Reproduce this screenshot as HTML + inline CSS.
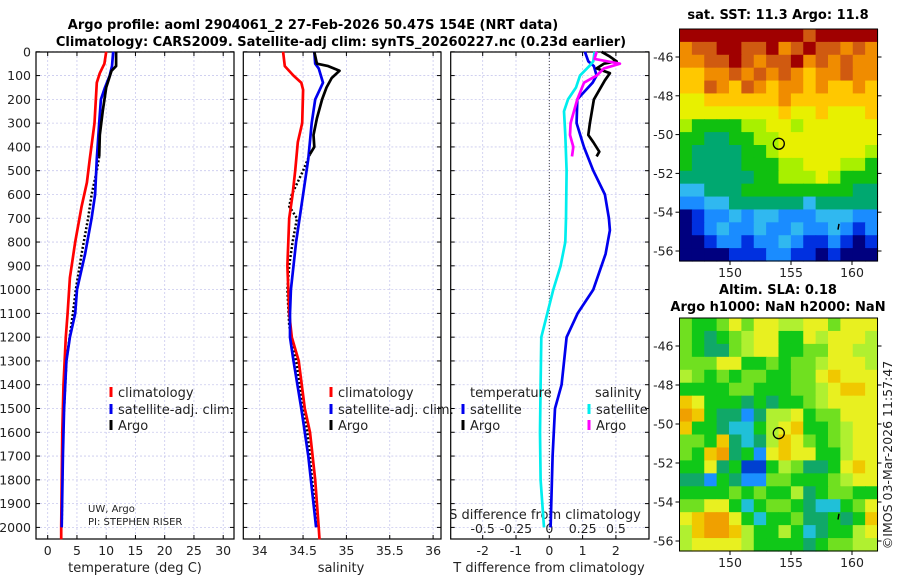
<!DOCTYPE html>
<html><head><meta charset="utf-8"><style>
html,body{margin:0;padding:0;background:#fff;}
svg{display:block;font-family:"DejaVu Sans","Liberation Sans",sans-serif;}
</style></head><body>
<svg id="fig" width="900" height="580" viewBox="0 0 900 580" xmlns="http://www.w3.org/2000/svg">
<text x="313" y="29" font-size="13" font-weight="bold" text-anchor="middle">Argo profile: aoml 2904061_2 27-Feb-2026 50.47S 154E (NRT data)</text>
<text x="341" y="46" font-size="13" font-weight="bold" text-anchor="middle">Climatology: CARS2009. Satellite-adj clim: synTS_20260227.nc (0.23d earlier)</text>
<g id="g"></g>
</svg>
<script>
// ---------- data ----------
const depthTicks = [0,100,200,300,400,500,600,700,800,900,1000,1100,1200,1300,1400,1500,1600,1700,1800,1900,2000];
const tempTicks = [0,5,10,15,20,25,30];
const salTicks = [34,34.5,35,35.5,36];
const salTickLabels = ["34","34.5","35","35.5","36"];
const dTTicks = [-2,-1,0,1,2];
const dSTicks = [-0.5,-0.25,0,0.25,0.5];
const dSTickLabels = ["-0.5","-0.25","0","0.25","0.5"];

const tClimDepth = [0,50,90,130,300,450,550,650,800,950,1100,1200,1400,1600,2000,2050];
const tClimVal = [10.0,9.7,8.9,8.4,8.0,7.2,6.7,5.8,4.7,3.8,3.4,3.1,2.7,2.5,2.3,2.3];
const tSatDepth = [0,60,100,150,200,300,450,600,700,850,1000,1100,1200,1300,1500,1700,2000];
const tSatVal = [11.2,11.0,10.6,9.8,9.1,8.8,8.4,8.1,7.5,6.4,5.0,4.7,3.8,3.2,2.8,2.6,2.4];
const tArgoDepth = [0,60,80,150,250,350,440];
const tArgoVal = [11.7,11.7,10.9,10.0,9.4,8.9,8.8];
const tArgoDotDepth = [440,500,600,700,850,1000,1100,1300,1600,2000];
const tArgoDotVal = [8.8,8.4,7.5,6.9,5.8,4.8,4.3,3.2,2.6,2.4];

const sClimDepth = [0,60,100,130,160,300,380,500,600,700,900,1100,1200,1300,1500,1600,1800,2000,2050];
const sClimVal = [34.27,34.29,34.39,34.48,34.50,34.49,34.44,34.41,34.38,34.34,34.32,34.34,34.37,34.45,34.52,34.58,34.64,34.68,34.69];
const sSatDepth = [0,50,70,130,200,300,450,600,800,1000,1100,1200,1300,1500,1700,2000];
const sSatVal = [34.63,34.64,34.68,34.73,34.64,34.60,34.56,34.50,34.42,34.36,34.35,34.35,34.39,34.48,34.56,34.65];
const sArgoDepth = [0,50,60,80,110,150,200,280,350,400,430];
const sArgoVal = [34.63,34.66,34.79,34.92,34.83,34.77,34.72,34.66,34.62,34.63,34.58];
const sArgoDotDepth = [430,500,600,650,700,800,900,1000,1150,1300,1600,2000];
const sArgoDotVal = [34.58,34.50,34.37,34.34,34.43,34.38,34.34,34.32,34.34,34.42,34.55,34.66];

const dTSatDepth = [0,40,60,100,130,200,300,400,500,600,700,750,850,1000,1100,1200,1400,1500,1700,2000];
const dTSatVal = [1.07,1.17,1.34,1.42,1.30,0.84,0.82,1.04,1.32,1.67,1.79,1.82,1.69,1.32,0.85,0.52,0.37,0.17,0.10,0.04];
const dSSatDepth = [0,40,60,100,150,200,250,350,500,700,800,900,1000,1100,1200,1400,1600,1800,2000];
const dSSatVal = [0.34,0.33,0.30,0.23,0.20,0.14,0.11,0.12,0.13,0.125,0.12,0.085,0.03,-0.015,-0.06,-0.065,-0.07,-0.065,-0.04];
const dTArgoDepth = [0,20,40,50,70,90,120,200,300,350,380,420,440];
const dTArgoVal = [1.57,1.82,2.02,1.64,1.42,1.82,1.67,1.34,1.22,1.17,1.32,1.5,1.42];
const dSArgoDepth = [0,30,50,70,100,130,200,300,350,400,440];
const dSArgoVal = [0.355,0.34,0.53,0.41,0.355,0.26,0.21,0.16,0.155,0.18,0.17];

const latTicks = [-46,-48,-50,-52,-54,-56];
const lonTicks = [150,155,160];
const sstGrid = [
"BBBBBBBBBBABBBBB","9AABBAAB9ABAA9A9","99AABA9AAB9A9A99","8899A9A9A9899A99",
"88A98A9899898898","7788888898888888","7777777787787778","6555566776777777",
"5544556677777777","5444455677777776","5444455566777665","4444445566676555",
"3344455555555544","2233444444344444","0122323322233322","0123223223223212",
"0012212232112101","0000111221101000"];
const slaGrid = [
"5445757766775777","5434567744767776","5433567744557766","5557744545567776",
"6545455445578777","4444554445567887","8744434344567777","9843313667455777",
"8443224678445677","5548323687545677","5489341787744677","4473400465334787",
"3314311554445677","4444545446345544","5577424554322457","7899742445334348",
"6899864464234467","6777764444345566"];
const argoLon = 154.0, argoLat = -50.47;

// ---------- helpers ----------
const NS = "http://www.w3.org/2000/svg";
const G = document.getElementById("g");
function mk(tag, attrs, parent){ const e=document.createElementNS(NS,tag); for(const k in attrs) e.setAttribute(k,attrs[k]); (parent||G).appendChild(e); return e; }
const PY0 = 51.8, PYS = 0.2378, PTOP = 52, PBOT = 539;
function yD(d){ return PY0 + d*PYS; }
function xT(t){ return 47.7 + t*5.85; }
function xS(s){ return 259.7 + (s-34)*86.7; }
function xDT(t){ return 549.3 + t*33.3; }
function xDS(s){ return 549.3 + s*133.3; }
function pts(ds, vs, fx){ return ds.map((d,i)=>fx(vs[i]).toFixed(1)+","+yD(d).toFixed(1)).join(" "); }

function panel(name, x0, x1, xs, fx){
  const gg = mk("g",{});
  
  
  xs.forEach(v=>{ const l=mk("line",{x1:fx(v),x2:fx(v),y1:PTOP,y2:PBOT,stroke:"#c9c9ee","stroke-width":0.8,"stroke-dasharray":"2,2"},gg);
    
     });
  depthTicks.forEach(d=>{ const l=mk("line",{x1:x0,x2:x1,y1:yD(d),y2:yD(d),stroke:"#c9c9ee","stroke-width":0.8,"stroke-dasharray":"2,2"},gg);
    
    
    mk("line",{x1:x0,x2:x0+4,y1:yD(d),y2:yD(d),stroke:"#000"},gg); mk("line",{x1:x1,x2:x1-4,y1:yD(d),y2:yD(d),stroke:"#000"},gg); });
  xs.forEach(v=>{ mk("line",{x1:fx(v),x2:fx(v),y1:PBOT,y2:PBOT-4,stroke:"#000"},gg); mk("line",{x1:fx(v),x2:fx(v),y1:PTOP,y2:PTOP+4,stroke:"#000"},gg); });
  const fr = mk("rect",{x:x0,y:PTOP,width:x1-x0,height:PBOT-PTOP,fill:"none",stroke:"#000","stroke-width":1.2},gg);
  
  
  return gg;
}
function line(gg, name, ds, vs, fx, color, dash){
  const a = {points:pts(ds,vs,fx),fill:"none",stroke:color,"stroke-width":dash?2.5:2.7,"stroke-linejoin":"round"};
  if(dash) a["stroke-dasharray"]="2,2";
  const p = mk("polyline",a,gg);
  
  
}
function txt(gg, name, x, y, s, size, anchor, extra){
  const t = mk("text",Object.assign({x:x,y:y,"font-size":size,"text-anchor":anchor||"start",fill:"#222"},extra||{}),gg);
  t.textContent = s;
  
  
  return t;
}
function legendEntry(gg, x, y, color, label){
  const m = mk("line",{x1:x,x2:x,y1:y-10,y2:y,stroke:color,"stroke-width":3},gg);
  
  
  txt(gg,'legend-entry',x+7,y,label,13);
}

// ---------- panel 1: temperature ----------
const p1 = panel('temperature-panel', 36, 234, tempTicks, xT);
depthTicks.forEach(d=>txt(p1,'y-tick-label',31,yD(d)+4.5,String(d),12.5,"end"));
tempTicks.forEach(v=>txt(p1,'x-tick-label',xT(v),555,String(v),12.5,"middle"));
txt(p1,'x-axis-title',135,572,"temperature (deg C)",13,"middle");
line(p1,'temp-argo-deep-dotted',tArgoDotDepth,tArgoDotVal,xT,"#000",true);
line(p1,'temp-climatology',tClimDepth,tClimVal,xT,"#ff0000");
line(p1,'temp-satellite-adj',tSatDepth,tSatVal,xT,"#0000ee");
line(p1,'temp-argo',tArgoDepth,tArgoVal,xT,"#000");
legendEntry(p1,111,397,"#ff0000","climatology");
legendEntry(p1,111,414,"#0000ee","satellite-adj. clim.");
legendEntry(p1,111,430,"#000","Argo");
txt(p1,'float-institution',88,512,"UW, Argo",10);
txt(p1,'float-pi',88,525,"PI: STEPHEN RISER",10);

// ---------- panel 2: salinity ----------
const p2 = panel('salinity-panel', 243.3, 441, salTicks, xS);
salTicks.forEach((v,i)=>txt(p2,'x-tick-label',xS(v),555,salTickLabels[i],12.5,"middle"));
txt(p2,'x-axis-title',341,572,"salinity",13,"middle");
line(p2,'sal-argo-deep-dotted',sArgoDotDepth,sArgoDotVal,xS,"#000",true);
line(p2,'sal-climatology',sClimDepth,sClimVal,xS,"#ff0000");
line(p2,'sal-satellite-adj',sSatDepth,sSatVal,xS,"#0000ee");
line(p2,'sal-argo',sArgoDepth,sArgoVal,xS,"#000");
legendEntry(p2,331,397,"#ff0000","climatology");
legendEntry(p2,331,414,"#0000ee","satellite-adj. clim.");
legendEntry(p2,331,430,"#000","Argo");

// ---------- panel 3: differences ----------
const p3 = panel('difference-panel', 450.7, 649, dTTicks, xDT);
const z = mk("line",{x1:xDT(0),x2:xDT(0),y1:PTOP,y2:PBOT,stroke:"#444","stroke-width":1,"stroke-dasharray":"1,2"},p3);


dTTicks.forEach(v=>txt(p3,'x-tick-label',xDT(v),555,String(v),12.5,"middle"));
txt(p3,'x-axis-title',549,572,"T difference from climatology",13,"middle");
txt(p3,'s-axis-title',545,519,"S difference from climatology",13,"middle");
dSTicks.forEach((v,i)=>txt(p3,'s-tick-label',xDS(v),533,dSTickLabels[i],12.5,"middle"));
line(p3,'dT-satellite',dTSatDepth,dTSatVal,xDT,"#0000ee");
line(p3,'dS-satellite',dSSatDepth,dSSatVal,xDS,"#00eeee");
line(p3,'dT-argo',dTArgoDepth,dTArgoVal,xDT,"#000");
line(p3,'dS-argo',dSArgoDepth,dSArgoVal,xDS,"#ff00ff");
txt(p3,'legend-title-temperature',470,397,"temperature",13);
txt(p3,'legend-title-salinity',595,397,"salinity",13);
legendEntry(p3,463,414,"#0000ee","satellite");
legendEntry(p3,463,430,"#000","Argo");
legendEntry(p3,589,414,"#00eeee","satellite");
legendEntry(p3,589,430,"#ff00ff","Argo");

// ---------- maps ----------
const sstColors = {"0":"#00007f","1":"#0030e0","2":"#1a8cff","3":"#30b8f0","4":"#00a870","5":"#10c010","6":"#a8f000","7":"#e8f000","8":"#ffc800","9":"#f08c00","A":"#d05a10","B":"#a00000"};
const slaColors = {"0":"#0040d0","1":"#1a90ff","2":"#20c0d8","3":"#10a868","4":"#10c818","5":"#70e020","6":"#b0f030","7":"#e8f020","8":"#f0c800","9":"#f0a000"};
function map(name, y0, y1, grid, colors, circLat){
  const x0=679.5, x1=877.5;
  const mg = mk("g",{});
  
  
  const lon=v=>730+(v-150)*12.2;
  const lat=v=>(y0+28)+(-46-v)*((y1-y0-38)/10);
  const rows=grid.length, cols=grid[0].length, cw=(x1-x0)/cols, ch=(y1-y0)/rows;
  grid.forEach((r,i)=>{ for(let j=0;j<cols;j++){
    const c = mk("rect",{x:(x0+j*cw).toFixed(2),y:(y0+i*ch).toFixed(2),width:(cw+0.6).toFixed(2),height:(ch+0.6).toFixed(2),fill:colors[r[j]]},mg);
    
    
  }});
  const fr = mk("rect",{x:x0,y:y0,width:x1-x0,height:y1-y0,fill:"none",stroke:"#000","stroke-width":1},mg);
  
  
  latTicks.forEach(v=>{ mk("line",{x1:x0,x2:x0-4,y1:lat(v),y2:lat(v),stroke:"#000"},mg); mk("line",{x1:x1,x2:x1+4,y1:lat(v),y2:lat(v),stroke:"#000"},mg);
    txt(mg,'lat-tick-label',x0-6,lat(v)+4.5,String(v),12.5,"end"); });
  lonTicks.forEach(v=>{ mk("line",{x1:lon(v),x2:lon(v),y1:y1,y2:y1+4,stroke:"#000"},mg);
    txt(mg,'lon-tick-label',lon(v),y1+16,String(v),12.5,"middle"); });
  const c = mk("circle",{cx:lon(argoLon),cy:lat(circLat),r:5.5,fill:"none",stroke:"#000","stroke-width":1.3},mg);
  
  
  const s = mk("line",{x1:838,x2:839,y1:lat(-54.9),y2:lat(-54.6),stroke:"#000","stroke-width":1.5},mg);
  
  
}
map('sst-map',29,261,sstGrid,sstColors,argoLat);
map('sla-map',318,551,slaGrid,slaColors,argoLat);
txt(G,'sst-map-title',778,19,"sat. SST: 11.3 Argo: 11.8",13,"middle",{"font-weight":"bold",fill:"#000"});
txt(G,'sla-map-title',778,294,"Altim. SLA: 0.18",13,"middle",{"font-weight":"bold",fill:"#000"});
txt(G,'sla-map-subtitle',778,311,"Argo h1000: NaN h2000: NaN",13,"middle",{"font-weight":"bold",fill:"#000"});
txt(G,'copyright-timestamp',892,455,"©IMOS 03-Mar-2026 11:57:47",12.5,"middle",{transform:"rotate(-90 892 455)"});
</script>
</body></html>
